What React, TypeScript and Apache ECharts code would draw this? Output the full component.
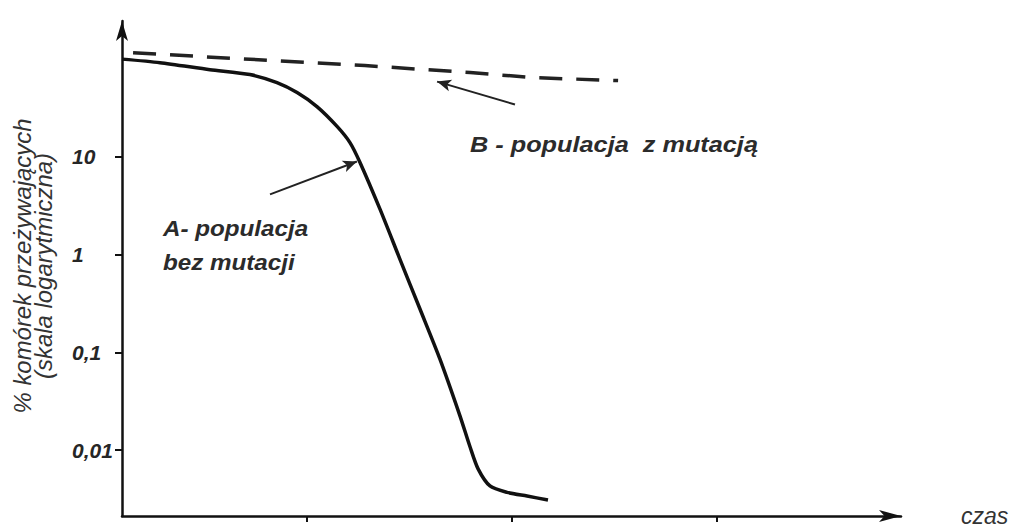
import React, { useEffect, useRef } from 'react';
import * as echarts from 'echarts';

// Curve A – population without mutation (time units, % surviving cells)
const timeA = [0, 1.85, 4.29, 6.24, 7.56, 8.54, 9.51, 10.49, 11.12, 11.61, 12.59, 13.56, 14.54, 15.51, 16.49, 16.98, 17.37, 17.95, 18.78, 19.76, 20.78];
const survivalA = [100, 92, 78, 69.5, 57.5, 45.5, 32.7, 20.5, 14.0, 8.77, 2.9, 0.895, 0.276, 0.0852, 0.0223, 0.01076, 0.00643, 0.0043, 0.0037, 0.00339, 0.00309];

// Curve B – population with mutation
const timeB = [0.54, 11.85, 16.98, 20.05, 24.2];
const survivalB = [116, 85.9, 72.8, 64.7, 60.3];

// Axis ticks
const yTickValues = [0.01, 0.1, 1, 10];
const yTickLabels = ['0,01', '0,1', '1', '10'];
const xTickValues = [9, 19, 29];

// Annotation arrows [time, %] tail -> tip
const arrowA = [[7.22, 4.13], [11.46, 8.97]];
const arrowB = [[19.17, 34.3], [15.37, 58.9]];

const yMinLog = -2.674;
const yMaxLog = 2.39;
const xMax = 38;

export default function App() {
  const ref = useRef<HTMLDivElement>(null);
  useEffect(() => {
    const chart = echarts.init(ref.current!, null, { renderer: 'svg' });
    const lg = (v: number) => Math.log10(v);
    const sans = '"Liberation Sans", Arial, sans-serif';
    const option: any = {
      animation: false,
      backgroundColor: '#ffffff',
      grid: { left: 122, right: 118, top: 21, bottom: 13, containLabel: false, outerBoundsMode: 'none' },
      xAxis: {
        type: 'value',
        min: 0,
        max: xMax,
        axisLine: {
          onZero: false,
          symbol: ['none', 'arrow'],
          symbolSize: [9, 22],
          lineStyle: { color: '#111', width: 2.5 },
        },
        axisTick: { show: true, customValues: xTickValues, length: 6, inside: false, lineStyle: { color: '#111', width: 2 } },
        axisLabel: { show: false },
        splitLine: { show: false },
        name: 'czas',
        nameLocation: 'end',
        nameGap: 60,
        nameTextStyle: { fontSize: 23, fontStyle: 'italic', fontFamily: sans, color: '#333', verticalAlign: 'middle' },
      },
      yAxis: {
        type: 'value',
        min: yMinLog,
        max: yMaxLog,
        axisLine: {
          onZero: false,
          symbol: ['none', 'arrow'],
          symbolSize: [9, 20],
          lineStyle: { color: '#111', width: 2.5 },
        },
        axisTick: { show: true, customValues: yTickValues.map(lg), length: 7, inside: false, lineStyle: { color: '#111', width: 2 } },
        axisLabel: {
          show: true,
          customValues: yTickValues.map(lg),
          formatter: (v: number) => {
            const i = yTickValues.findIndex((t) => Math.abs(lg(t) - v) < 1e-6);
            return i >= 0 ? yTickLabels[i] : '';
          },
          align: 'left',
          margin: 50,
          fontSize: 21,
          fontStyle: 'italic',
          fontWeight: 'bold',
          fontFamily: sans,
          color: '#262626',
        },
        splitLine: { show: false },
      },
      series: [
        {
          name: 'A',
          type: 'line',
          data: timeA.map((t, i) => [t, lg(survivalA[i])]),
          showSymbol: false,
          symbol: 'none',
          smooth: 0.25,
          lineStyle: { color: '#111', width: 3.5 },
          emphasis: { disabled: true },
          markLine: {
            silent: true,
            symbol: ['none', 'arrow'],
            symbolSize: [9, 14],
            label: { show: false },
            emphasis: { disabled: true },
            lineStyle: { color: '#222', width: 2, type: 'solid' },
            data: [
              [{ coord: [arrowA[0][0], lg(arrowA[0][1])] }, { coord: [arrowA[1][0], lg(arrowA[1][1])] }],
              [{ coord: [arrowB[0][0], lg(arrowB[0][1])] }, { coord: [arrowB[1][0], lg(arrowB[1][1])] }],
            ],
          },
        },
        {
          name: 'B',
          type: 'line',
          data: timeB.map((t, i) => [t, lg(survivalB[i])]),
          showSymbol: false,
          symbol: 'none',
          lineStyle: { color: '#222', width: 3.5, type: [23, 14] },
          emphasis: { disabled: true },
        },
      ],
      graphic: [
        {
          type: 'text',
          x: 34,
          y: 266,
          rotation: Math.PI / 2,
          scaleX: 1.04,
          style: {
            text: '% komórek przeżywających\n(skala logarytmiczna)',
            fontSize: 23,
            fontStyle: 'italic',
            fontFamily: sans,
            fill: '#333',
            align: 'center',
            verticalAlign: 'middle',
            lineHeight: 21,
          },
        },
        {
          type: 'text',
          x: 163,
          y: 245,
          scaleX: 1.1,
          style: {
            text: 'A- populacja\nbez mutacji',
            fontSize: 22,
            fontStyle: 'italic',
            fontWeight: 'bold',
            fontFamily: sans,
            fill: '#2b2b2b',
            align: 'left',
            verticalAlign: 'middle',
            lineHeight: 34,
          },
        },
        {
          type: 'text',
          x: 470,
          y: 145,
          scaleX: 1.15,
          style: {
            text: 'B - populacja  z mutacją',
            fontSize: 22,
            fontStyle: 'italic',
            fontWeight: 'bold',
            fontFamily: sans,
            fill: '#2b2b2b',
            align: 'left',
            verticalAlign: 'middle',
          },
        },
      ],
    };
    chart.setOption(option);
    return () => chart.dispose();
  }, []);
  return <div ref={ref} style={{ position: 'absolute', left: 0, top: 0, width: 1019, height: 529 }} />;
}
